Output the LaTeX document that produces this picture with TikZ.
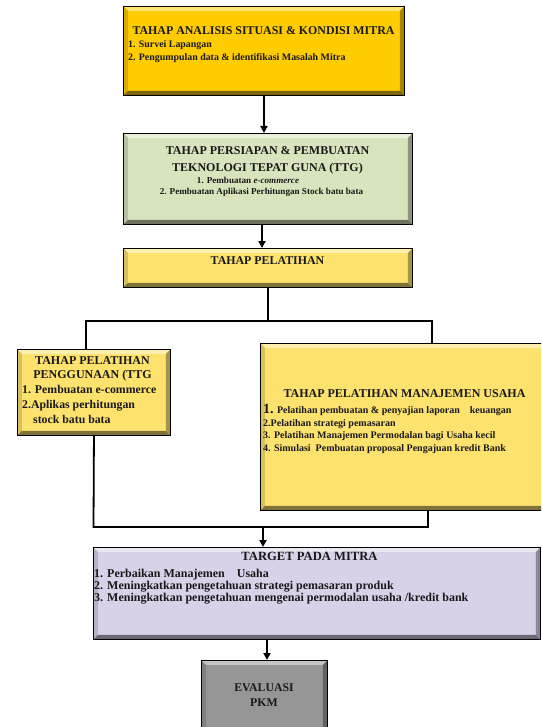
\documentclass[tikz,border=0pt]{standalone}
\usepackage{fontspec}
\setmainfont{Liberation Serif}
\usetikzlibrary{arrows.meta}
\definecolor{cgold}{HTML}{FFCC00}
\definecolor{cgreen}{HTML}{D7E4BD}
\definecolor{cyel}{HTML}{FEE26E}
\definecolor{clav}{HTML}{D9D1E8}
\definecolor{cgray}{HTML}{969696}
\newcommand{\fsz}[1]{\fontsize{#1}{#1}\selectfont\bfseries}
\tikzset{
  bevel/.style={draw=black, line width=0.9pt, fill=#1, inner sep=0pt, anchor=north west,
    path picture={
      \fill[#1!55!white] (path picture bounding box.north west) -- (path picture bounding box.north east)
        -- ([xshift=-4.5pt,yshift=-4.5pt]path picture bounding box.north east)
        -- ([xshift=4.5pt,yshift=-4.5pt]path picture bounding box.north west) -- cycle;
      \fill[#1!85!black] (path picture bounding box.north west) -- ([xshift=4.5pt,yshift=-4.5pt]path picture bounding box.north west)
        -- ([xshift=4.5pt,yshift=4.5pt]path picture bounding box.south west)
        -- (path picture bounding box.south west) -- cycle;
      \fill[#1!65!black] (path picture bounding box.north east) -- ([xshift=-4.5pt,yshift=-4.5pt]path picture bounding box.north east)
        -- ([xshift=-4.5pt,yshift=4.5pt]path picture bounding box.south east)
        -- (path picture bounding box.south east) -- cycle;
      \fill[#1!50!black] (path picture bounding box.south west) -- ([xshift=4.5pt,yshift=4.5pt]path picture bounding box.south west)
        -- ([xshift=-4.5pt,yshift=4.5pt]path picture bounding box.south east)
        -- (path picture bounding box.south east) -- cycle;
    }},
  conn/.style={line width=1.8pt, black},
  arr/.style={conn, -{Triangle[width=7pt,length=7pt]}},
  txt/.style={inner sep=0pt, text=black!90},
}
\begin{document}
\begin{tikzpicture}[x=1pt,y=-1pt]
\useasboundingbox (0,0) rectangle (541,727);
\clip (0,0) rectangle (541,727);
% boxes
\node[bevel=cgold, minimum width=281pt, minimum height=89pt] (b1) at (123,6) {};
\node[bevel=cgreen, minimum width=289pt, minimum height=91pt] (b2) at (123,133) {};
\node[bevel=cyel, minimum width=289pt, minimum height=39pt] (b3) at (123,248) {};
\node[bevel=cyel, minimum width=153pt, minimum height=86pt] (b4) at (17,349) {};
\node[bevel=cyel, minimum width=295pt, minimum height=167pt] (b5) at (260,343) {};
\node[bevel=clav, minimum width=447pt, minimum height=92pt] (b6) at (93,547) {};
\node[bevel=cgray, minimum width=126pt, minimum height=80pt] (b7) at (201,660) {};
% connector points
\coordinate (jl) at (86,321);
\coordinate (jr) at (432,321);
\coordinate (kl) at (93.5,527);
\coordinate (kr) at (428,527);
\coordinate (km) at (263,527);
\coordinate (a2) at (262,224);
\coordinate (a6) at (267,639);
% connectors
\draw[arr] (b1.south) -- (b1.south |- b2.north);
\draw[arr] (a2) -- (a2 |- b3.north);
\draw[conn] (b3.south) -- (b3.south |- jl);
\draw[conn] ([xshift=-0.9pt]jl) -- ([xshift=0.9pt]jr);
\draw[conn] (jl) -- (jl |- b4.north);
\draw[conn] (jr) -- (jr |- b5.north);
\draw[conn] (b4.south) -- (kl) -- ([xshift=0.9pt]kr);
\draw[conn] (kr |- b5.south) -- (kr);
\draw[arr] (km) -- (km |- b6.north);
\draw[arr] (a6) -- (a6 |- b7.north);
% texts box 1
\node[txt, anchor=base] (t1) at (263.5,35) {\fsz{11.9}TAHAP ANALISIS SITUASI \& KONDISI MITRA};
\node[txt, anchor=base west] (t1a) at (128,48) {\fsz{9.9}1. Survei Lapangan};
\node[txt, anchor=base west] (t1b) at (128,61) {\fsz{9.9}2. Pengumpulan data \& identifikasi Masalah Mitra};
% box 2
\node[txt, anchor=base] (t2) at (267.5,154.5) {\fsz{12}TAHAP PERSIAPAN \& PEMBUATAN};
\node[txt, anchor=base] (t2b) at (267.5,171.5) {\fsz{12}TEKNOLOGI TEPAT GUNA (TTG)};
\node[txt, anchor=base] (t2c) at (248,183.5) {\fsz{9.1}1. Pembuatan \textit{e-commerce}};
\node[txt, anchor=base] (t2d) at (261.5,195) {\fsz{9.1}2. Pembuatan Aplikasi Perhitungan Stock batu bata};
% box 3
\node[txt, anchor=base] (t3) at (267.5,264) {\fsz{11.9}TAHAP PELATIHAN};
% box 4
\node[txt, anchor=base] (t4) at (92.5,364) {\fsz{12}TAHAP PELATIHAN};
\node[txt, anchor=base] (t4b) at (92.5,378.5) {\fsz{12}PENGGUNAAN (TTG};
\node[txt, anchor=base west] (t4c) at (22,393.5) {\fsz{11.8}1. Pembuatan e-commerce};
\node[txt, anchor=base west] (t4d) at (22,408.5) {\fsz{11.8}2.Aplikas perhitungan};
\node[txt, anchor=base west] (t4e) at (33,423.5) {\fsz{11.8}stock batu bata};
% box 5
\node[txt, anchor=base] (t5) at (404.5,397) {\fsz{12}TAHAP PELATIHAN MANAJEMEN USAHA};
\node[txt, anchor=base west] (t5a) at (263,413) {\fsz{10}{\fsz{14}1.} Pelatihan pembuatan \& penyajian laporan \ \ \ keuangan};
\node[txt, anchor=base west] (t5b) at (263,426) {\fsz{10}2.Pelatihan strategi pemasaran};
\node[txt, anchor=base west] (t5c) at (263,438) {\fsz{10}3. Pelatihan Manajemen Permodalan bagi Usaha kecil};
\node[txt, anchor=base west] (t5d) at (263,451) {\fsz{10}4. Simulasi \ Pembuatan proposal Pengajuan kredit Bank};
% box 6
\node[txt, anchor=base] (t6) at (309.5,560.5) {\fsz{12.6}TARGET PADA MITRA};
\node[txt, anchor=base west] (t6a) at (94,577) {\fsz{12}1. Perbaikan Manajemen \ \ \ Usaha};
\node[txt, anchor=base west] (t6b) at (94,589) {\fsz{12}2. Meningkatkan pengetahuan strategi pemasaran produk};
\node[txt, anchor=base west] (t6c) at (94,601) {\fsz{12}3. Meningkatkan pengetahuan mengenai permodalan usaha /kredit bank};
% box 7
\node[txt, anchor=base] (t7) at (264,691) {\fsz{11.8}EVALUASI};
\node[txt, anchor=base] (t7b) at (264,706) {\fsz{11.8}PKM};
\end{tikzpicture}
\end{document}
